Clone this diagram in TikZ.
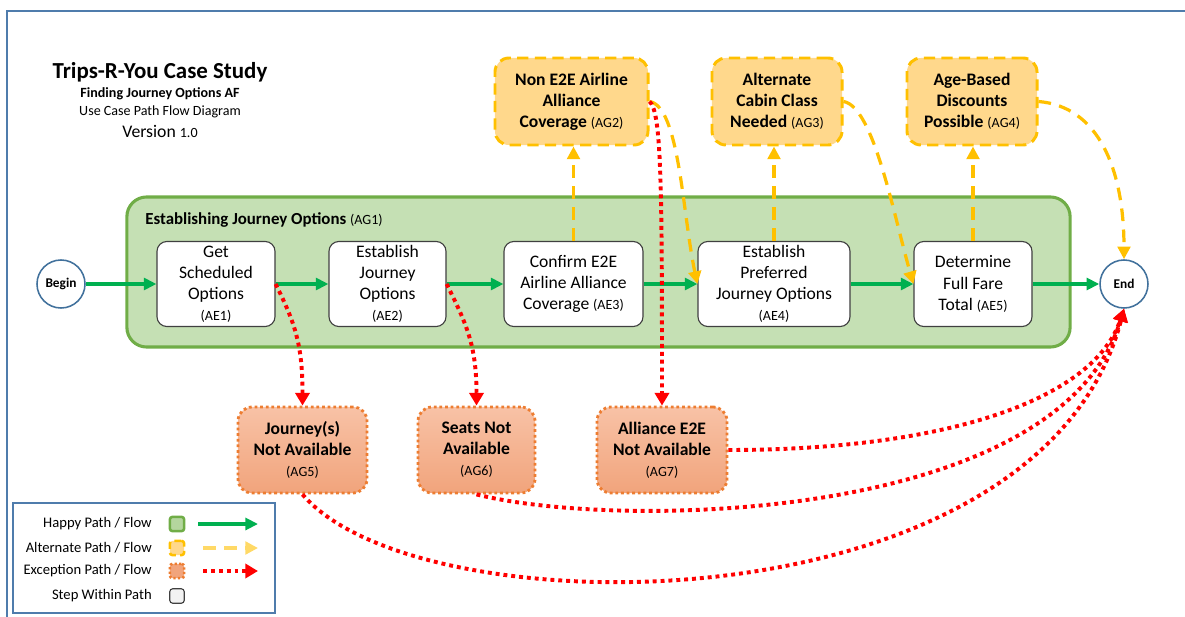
\documentclass[tikz,border=0pt]{standalone}
\usepackage{fontspec}
\setmainfont{Carlito}
\usetikzlibrary{arrows.meta}
\definecolor{frameblue}{RGB}{79,124,172}
\definecolor{endblue}{RGB}{65,113,156}
\definecolor{groupfill}{RGB}{197,224,180}
\definecolor{groupline}{RGB}{112,173,71}
\definecolor{happygreen}{RGB}{0,176,80}
\definecolor{altorange}{RGB}{255,192,0}
\definecolor{altfill}{RGB}{255,216,140}
\definecolor{altlight}{RGB}{255,217,102}
\definecolor{excline}{RGB}{237,125,49}
\definecolor{exctop}{RGB}{248,194,166}
\definecolor{excbottom}{RGB}{241,164,124}
\definecolor{stepgray}{RGB}{64,64,64}
\newcommand\idtag[1]{{\mdseries\fontsize{10}{12}\selectfont(#1)}}
\begin{document}
\begin{tikzpicture}
[x=0.025cm,y=-0.025cm,
  stepbox/.style={shape=rectangle,rounded corners=7pt,draw=stepgray,line width=0.8pt,
    fill=white,align=center,inner sep=0pt,minimum height=2.125cm,
    font=\fontsize{12.5}{15}\selectfont},
  altbox/.style={shape=rectangle,rounded corners=10pt,draw=altorange,line width=2.1pt,
    dash pattern=on 8pt off 4.5pt,fill=altfill,align=center,inner sep=0pt,
    minimum height=2.175cm,font=\fontsize{12.5}{15}\selectfont\bfseries},
  excbox/.style={shape=rectangle,rounded corners=10pt,draw=excline,line width=2pt,
    dash pattern=on 2pt off 2pt,top color=exctop,bottom color=excbottom,align=center,
    inner sep=0pt,minimum height=2.15cm,font=\fontsize{12.5}{15}\selectfont\bfseries},
  groupbox/.style={shape=rectangle,rounded corners=14pt,draw=groupline,line width=2.2pt,
    fill=groupfill,minimum height=3.75cm},
  pathend/.style={shape=circle,draw=endblue,line width=1.1pt,fill=white,inner sep=0pt,
    minimum size=1.2cm,font=\fontsize{9.5}{11}\selectfont\bfseries},
  happyarrow/.style={-{Triangle[length=9pt,width=8.5pt]},line width=2.6pt,draw=happygreen},
  altarrow/.style={-{Triangle[length=9pt,width=9pt]},line width=2.3pt,
    dash pattern=on 9pt off 6pt,draw=altorange},
  excarrow/.style={-{Triangle[length=9pt,width=10pt]},line width=2.8pt,
    dash pattern=on 2.8pt off 2.8pt,draw=red},
  legendicon/.style={shape=rectangle,rounded corners=2pt,inner sep=0pt,minimum size=0.36cm}]
\useasboundingbox (0,0) rectangle (1185,617);
%% frame and title
\draw[line width=1.6pt,draw=frameblue] (7,617) -- (7,11) -- (1185,11);
\node (title) at (160,72) {\fontsize{16.3}{19}\selectfont\bfseries Trips-R-You Case Study};
\node (subtitle) at (160,94) {\fontsize{10}{12}\selectfont\bfseries Finding Journey Options AF};
\node (kind) at (160,112) {\fontsize{10}{12}\selectfont Use Case Path Flow Diagram};
\node (version) at (160,131) {\fontsize{12.6}{15}\selectfont Version {\fontsize{10}{12}\selectfont 1.0}};
%% happy path group
\node (ag1) at (598.5,272) [groupbox,minimum width=23.575cm] {};
\node (ag1label) at (145,220) [anchor=west,inner sep=0pt]
  {\fontsize{12}{14}\selectfont\bfseries Establishing Journey Options \idtag{AG1}};
%% begin, end and steps
\foreach \nodename/\x/\txt in {begin/61/Begin, end/1124/End}
  \node (\nodename) at (\x,284) [pathend] {\txt};
\foreach \nodename/\x/\w/\txt in {
  ae1/216/2.95/{Get\\Scheduled\\Options\\\idtag{AE1}},
  ae2/387.5/2.925/{Establish\\Journey\\Options\\\idtag{AE2}},
  ae3/573.5/3.475/{Confirm E2E\\Airline Alliance\\Coverage \idtag{AE3}},
  ae4/774/3.8/{Establish\\Preferred\\Journey Options\\\idtag{AE4}},
  ae5/973/2.95/{Determine\\Full Fare\\Total \idtag{AE5}}}
  \node (\nodename) at (\x,284) [stepbox,minimum width=\w cm] {\txt};
%% alternate and exception paths
\foreach \nodename/\x/\w/\txt in {
  ag2/571.5/3.825/{Non E2E Airline\\Alliance\\Coverage \idtag{AG2}},
  ag3/777/3.25/{Alternate\\Cabin Class\\Needed \idtag{AG3}},
  ag4/972/3.25/{Age-Based\\Discounts\\Possible \idtag{AG4}}}
  \node (\nodename) at (\x,101.5) [altbox,minimum width=\w cm] {\txt};
\foreach \nodename/\x/\w/\txt in {
  ag5/302.5/3.225/{Journey(s)\\Not Available\\\idtag{AG5}},
  ag6/476.5/2.925/{Seats Not\\Available\\\idtag{AG6}},
  ag7/662/3.25/{Alliance E2E\\Not Available\\\idtag{AG7}}}
  \node (\nodename) at (\x,450) [excbox,minimum width=\w cm] {\txt};
%% flows
\path
\foreach \startnode/\endnode in {begin/ae1, ae1/ae2, ae2/ae3, ae3/ae4, ae4/ae5, ae5/end} {
  (\startnode) edge[happyarrow] (\endnode)
}
\foreach \startnode/\endnode in {ae3/ag2, ae4/ag3, ae5/ag4} {
  (\startnode.north) edge[altarrow] (\startnode.north |- \endnode.south)
};
\foreach \startnode/\endnode/\ca/\cb in {
  ag2.east/ae4.west/{30,5}/{-15,-70}, ag3.east/ae5.west/{30,5}/{-20,-70},
  ag4.east/end.north/{60,5}/{0,-90}}
  \draw[altarrow] (\startnode) .. controls +(\ca) and +(\cb) .. (\endnode);
\foreach \startnode/\endnode/\ca/\cb in {
  ae1.east/ag5.north/{20,40}/{0,-60}, ae2.east/ag6.north/{20,40}/{0,-60},
  ag2.east/ag7.north/{12,10}/{0,-220}, ag7.east/end.south/{220,0}/{-30,90},
  ag6.south/end.south/{143,36}/{-64,213}, ag5.south/end.south/{117,138}/{-84,322}}
  \draw[excarrow] (\startnode) .. controls +(\ca) and +(\cb) .. (\endnode);
%% legend
\node (legend) at (144,558) [draw=frameblue,line width=1.2pt,minimum width=6.55cm,
  minimum height=2.75cm] {};
\foreach \i/\y/\txt in {1/524/{Happy Path / Flow}, 2/548/{Alternate Path / Flow},
  3/571/{Exception Path / Flow}, 4/596/{Step Within Path}}
  \node (legendtext\i) at (152,\y) [anchor=east,inner sep=0pt]
    {\fontsize{10.4}{12}\selectfont\txt};
\node (legendicon1) at (177,524) [legendicon,draw=groupline,line width=1.8pt,fill=groupfill!80!groupline] {};
\node (legendicon2) at (177,548) [legendicon,draw=altorange,line width=1.8pt,
  dash pattern=on 5pt off 3pt,fill=altfill] {};
\node (legendicon3) at (177,571) [legendicon,draw=excline,line width=1.8pt,
  dash pattern=on 1.6pt off 1.6pt,fill=excbottom] {};
\node (legendicon4) at (177,596) [legendicon,draw=stepgray,line width=0.8pt,fill=black!5] {};
\draw[happyarrow] (198,524) -- (258,524);
\draw[altarrow,draw=altlight] (203,548) -- (258,548);
\draw[excarrow] (203,571) -- (258,571);
\end{tikzpicture}
\end{document}
